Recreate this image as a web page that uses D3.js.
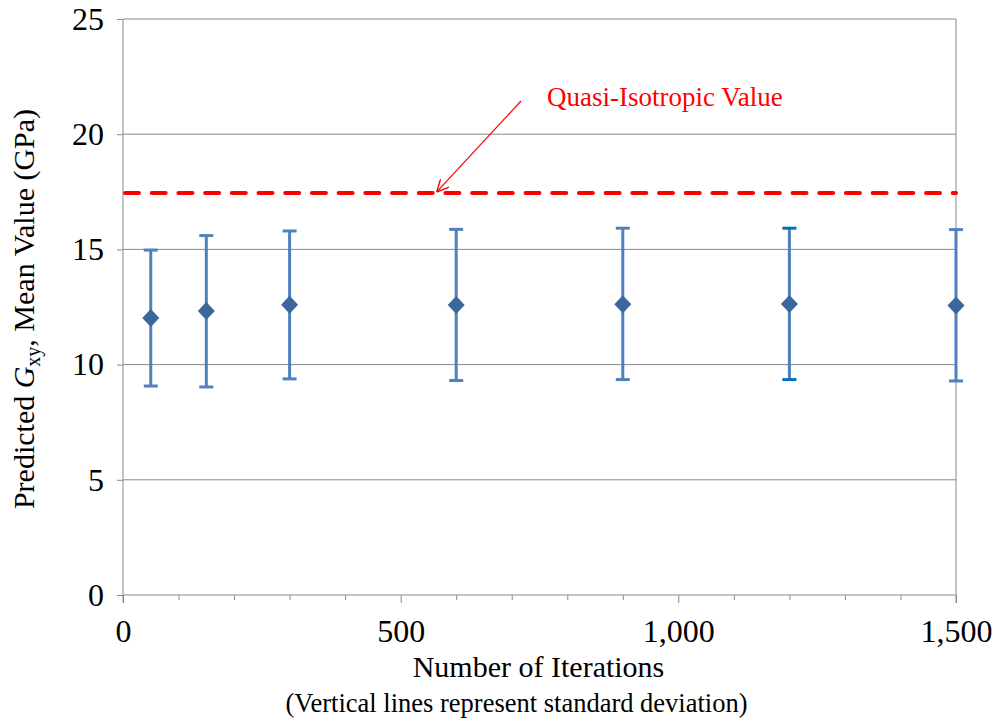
<!DOCTYPE html>
<html>
<head>
<meta charset="utf-8">
<script src="https://cdn.jsdelivr.net/npm/d3@7"></script>
<style>
  html, body { margin: 0; padding: 0; background: #fff; }
  svg text { font-family: "Liberation Serif", "Times New Roman", serif; }
</style>
</head>
<body>
<svg id="chart" width="995" height="725"></svg>
<script>
// Iteration counts and the predicted shear modulus statistics (GPa)
const iterations = [50, 150, 300, 600, 900, 1200, 1500];
const meanValues = [12.02, 12.33, 12.6, 12.59, 12.62, 12.63, 12.56];
const upperValues = [14.97, 15.6, 15.8, 15.87, 15.92, 15.92, 15.86];
const lowerValues = [9.07, 9.03, 9.38, 9.31, 9.35, 9.35, 9.29];
const quasiIsotropic = 17.45;
const xTicks = [0, 500, 1000, 1500];
const yTicks = [0, 5, 10, 15, 20, 25];

const svg = d3.select("#chart");
const m = { left: 123, right: 956, top: 19, bottom: 595 };

const x = d3.scaleLinear().domain([0, 1500]).range([m.left, m.right]);
const y = d3.scaleLinear().domain([0, 25]).range([m.bottom, m.top]);

const axisColor = "#898989";

// horizontal gridlines
svg.append("g").selectAll("line")
  .data(yTicks.filter(d => d > 0))
  .join("line")
  .attr("x1", m.left).attr("x2", m.right)
  .attr("y1", d => y(d)).attr("y2", d => y(d))
  .attr("stroke", axisColor).attr("stroke-width", 1);

// right border line
svg.append("line")
  .attr("x1", m.right).attr("x2", m.right)
  .attr("y1", m.top).attr("y2", m.bottom + 8)
  .attr("stroke", axisColor);

// y axis
const yAxis = svg.append("g")
  .attr("transform", `translate(${m.left},0)`)
  .call(d3.axisLeft(y).tickValues(yTicks).tickSize(6).tickPadding(13).tickFormat(d3.format("d")));
yAxis.select(".domain").attr("stroke", axisColor).attr("d", `M0,${m.top}V${m.bottom + 8}`);
yAxis.selectAll(".tick line").attr("stroke", axisColor);
yAxis.selectAll(".tick text").attr("font-size", 32).attr("fill", "#000")
  .attr("font-family", "Liberation Serif");

// x axis: minor ticks every 100, labelled majors every 500
const xAxis = svg.append("g")
  .attr("transform", `translate(0,${m.bottom})`)
  .call(d3.axisBottom(x).tickValues(d3.range(0, 1501, 100)).tickSize(5)
    .tickFormat(d => xTicks.includes(d) ? d3.format(",")(d) : ""));
xAxis.select(".domain").attr("stroke", axisColor).attr("d", `M${m.left},0H${m.right}`);
xAxis.selectAll(".tick line").attr("stroke", axisColor)
  .attr("y2", d => xTicks.includes(d) ? 8 : 5);
xAxis.selectAll(".tick text").attr("font-size", 32).attr("fill", "#000")
  .attr("font-family", "Liberation Serif").attr("y", 47).attr("dy", 0);

// quasi-isotropic reference line
svg.append("line")
  .attr("x1", m.left + 2).attr("x2", m.right)
  .attr("y1", y(quasiIsotropic)).attr("y2", y(quasiIsotropic))
  .attr("stroke", "#ff0000").attr("stroke-width", 4)
  .attr("stroke-dasharray", "14,12.7").attr("stroke-linecap", "round");

// error bars
const blue = "#4f81bd";
const bars = svg.append("g");
iterations.forEach((it, i) => {
  const cx = x(it);
  const capColor = i === 5 ? "#0070c0" : blue;
  bars.append("line")
    .attr("x1", cx).attr("x2", cx)
    .attr("y1", y(upperValues[i])).attr("y2", y(lowerValues[i]))
    .attr("stroke", blue).attr("stroke-width", 3);
  [upperValues[i], lowerValues[i]].forEach(v => {
    bars.append("line")
      .attr("x1", cx - 7).attr("x2", cx + 7)
      .attr("y1", y(v)).attr("y2", y(v))
      .attr("stroke", capColor).attr("stroke-width", 3);
  });
});

// mean markers (diamonds)
svg.append("g").selectAll("path")
  .data(iterations)
  .join("path")
  .attr("transform", (d, i) => `translate(${x(d)},${y(meanValues[i])})`)
  .attr("d", "M0,-9L8.5,0L0,9L-8.5,0Z")
  .attr("fill", "#3c679e");

// annotation arrow and label
const defs = svg.append("defs");
defs.append("marker")
  .attr("id", "arrowHead")
  .attr("viewBox", "0 0 10 10")
  .attr("refX", 10).attr("refY", 5)
  .attr("markerWidth", 12).attr("markerHeight", 12)
  .attr("markerUnits", "userSpaceOnUse")
  .attr("orient", "auto")
  .append("path")
  .attr("d", "M0,0L10,5L0,10")
  .attr("fill", "none").attr("stroke", "#ff0000").attr("stroke-width", 1.2);

svg.append("line")
  .attr("x1", 521).attr("y1", 101)
  .attr("x2", x(565)).attr("y2", y(quasiIsotropic) - 1)
  .attr("stroke", "#ff0000").attr("stroke-width", 1.2)
  .attr("marker-end", "url(#arrowHead)");

svg.append("text")
  .attr("x", 547).attr("y", 106)
  .attr("font-size", 27).attr("fill", "#ff0000")
  .text("Quasi-Isotropic Value");

// axis titles
svg.append("text")
  .attr("x", 538.5).attr("y", 677)
  .attr("text-anchor", "middle").attr("font-size", 30)
  .text("Number of Iterations");

svg.append("text")
  .attr("x", 516.5).attr("y", 712)
  .attr("text-anchor", "middle").attr("font-size", 26.5)
  .text("(Vertical lines represent standard deviation)");

const yTitle = svg.append("text")
  .attr("transform", `translate(34,309) rotate(-90)`)
  .attr("text-anchor", "middle").attr("font-size", 30);
yTitle.append("tspan").text("Predicted ");
yTitle.append("tspan").attr("font-style", "italic").text("G");
yTitle.append("tspan").attr("font-size", 20).attr("dy", 6).text("xy");
yTitle.append("tspan").attr("dy", -6).text(", Mean Value (GPa)");
</script>
</body>
</html>
